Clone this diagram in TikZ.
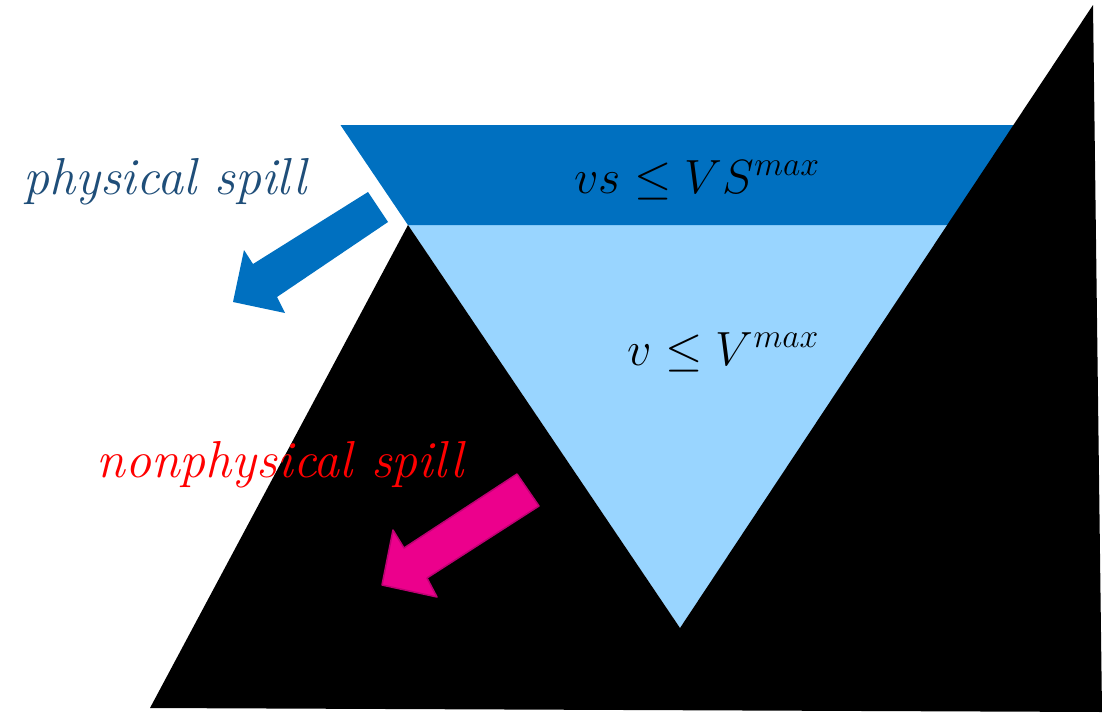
\RequirePackage{fix-cm}
\documentclass[tikz,border=0pt]{standalone}
\usepackage{amsmath}
\usepackage{amssymb}
\usepackage{tikz}
\usepackage{xcolor}
\usetikzlibrary{positioning, arrows.meta}

\definecolor{spilldark}{RGB}{31,78,121}
\definecolor{tankblue}{RGB}{0,112,192}
\definecolor{waterblue}{RGB}{153,213,255}
\definecolor{pinkfill}{RGB}{236,0,140}
\definecolor{pinkline}{RGB}{190,0,115}

\begin{document}
\begin{tikzpicture}[x=1pt, y=-1pt, >=Latex]
		\def\Fs{52}
		\def\Ms{48}

		\useasboundingbox (0,0) rectangle (1102,712);

		% reservoir (inverted triangle)
		\coordinate (top-left) at (340.5,125);
		\coordinate (top-right) at (1017,125);
		\coordinate (valley) at (680,628);
		\coordinate (spill-left) at (408,225);
		\coordinate (spill-right) at (950,225);

		\fill[waterblue] (top-left) -- (top-right) -- (valley) -- cycle;
		\fill[tankblue] (top-left) -- (top-right)
			-- (spill-right) -- (spill-left) -- cycle;

		% terrain
		\coordinate (foot-left) at (150,708);
		\coordinate (peak-left) at (408,225);
		\coordinate (peak-right) at (1093,5);
		\coordinate (foot-right) at (1102,712);

		\fill[black] (foot-left) -- (peak-left) -- (valley)
			-- (peak-right) -- (foot-right) -- cycle;

		% spill arrows
		\fill[tankblue] (368,192) -- (388,222) -- (277,297) -- (285,313)
			-- (233,302) -- (244,250) -- (253,264) -- cycle;
		\filldraw[pinkfill, draw=pinkline, line width=1.5, line join=round]
			(517,474) -- (539,506) -- (427,578) -- (437,597)
			-- (382,585) -- (393,530) -- (404,548) -- cycle;

		% labels
		\node[anchor=base, text=spilldark, font=\fontsize{\Fs}{60}\selectfont\itshape]
			(physical) at (165,194) {physical spill};
		\node[anchor=base, text=red, font=\fontsize{\Fs}{60}\selectfont\itshape]
			(nonphysical) at (280,477) {nonphysical spill};
		\node[anchor=base, font=\fontsize{\Ms}{56}\selectfont]
			(vs-bound) at (697,193) {$vs \leq VS^{max}$};
		\node[anchor=base, font=\fontsize{\Ms}{56}\selectfont]
			(v-bound) at (723,365) {$v \leq V^{max}$};
	\end{tikzpicture}
\end{document}
